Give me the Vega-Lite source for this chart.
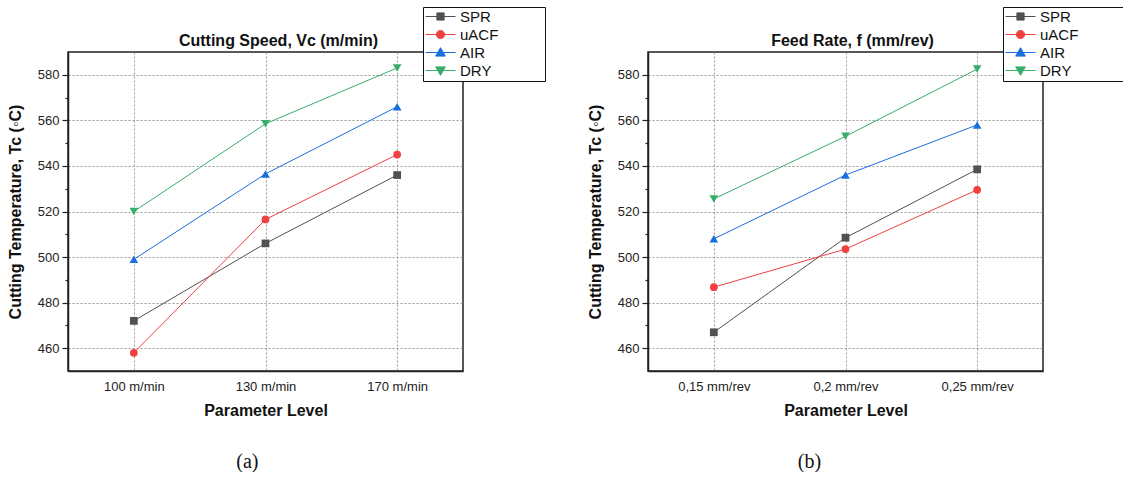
{
  "$schema": "https://vega.github.io/schema/vega-lite/v6.json",
  "background": "white",
  "padding": {"left": 6, "top": 5, "right": 0, "bottom": 0},
  "config": {
    "font": "Liberation Sans",
    "view": {"stroke": "#222222", "strokeWidth": 1.5},
    "axis": {
      "labelFont": "Liberation Sans", "labelFontSize": 13, "labelColor": "#222222",
      "titleFont": "Liberation Sans", "titleFontSize": 16, "titleFontWeight": "bold", "titleColor": "#111111",
      "domainColor": "#222222", "domainWidth": 1.5, "tickColor": "#222222", "tickWidth": 1.2,
      "gridColor": "#9a9a9a", "gridDash": [2, 2], "gridWidth": 1
    },
    "legend": {"labelFont": "Liberation Sans", "title": null, "orient": "none", "legendX": 355, "legendY": -45, "strokeColor": "#111111", "fillColor": "white", "padding": 2, "labelFontSize": 15, "labelColor": "#111111", "rowPadding": 2, "symbolSize": 144, "symbolStrokeWidth": 1, "symbolOffset": 8, "labelOffset": 12, "symbolOpacity": 1, "symbolFillColor": "#515151", "symbolStrokeColor": "#515151"}
  },
  "datasets": {
    "speed": [
      {"level": "100 m/min", "series": "SPR", "temp": 472},
      {"level": "130 m/min", "series": "SPR", "temp": 506},
      {"level": "170 m/min", "series": "SPR", "temp": 536},
      {"level": "100 m/min", "series": "uACF", "temp": 458},
      {"level": "130 m/min", "series": "uACF", "temp": 516.5},
      {"level": "170 m/min", "series": "uACF", "temp": 545},
      {"level": "100 m/min", "series": "AIR", "temp": 499},
      {"level": "130 m/min", "series": "AIR", "temp": 536.5},
      {"level": "170 m/min", "series": "AIR", "temp": 566},
      {"level": "100 m/min", "series": "DRY", "temp": 520},
      {"level": "130 m/min", "series": "DRY", "temp": 558.5},
      {"level": "170 m/min", "series": "DRY", "temp": 583}
    ],
    "feed": [
      {"level": "0,15 mm/rev", "series": "SPR", "temp": 467},
      {"level": "0,2 mm/rev", "series": "SPR", "temp": 508.5},
      {"level": "0,25 mm/rev", "series": "SPR", "temp": 538.5},
      {"level": "0,15 mm/rev", "series": "uACF", "temp": 486.8},
      {"level": "0,2 mm/rev", "series": "uACF", "temp": 503.5},
      {"level": "0,25 mm/rev", "series": "uACF", "temp": 529.5},
      {"level": "0,15 mm/rev", "series": "AIR", "temp": 508},
      {"level": "0,2 mm/rev", "series": "AIR", "temp": 536},
      {"level": "0,25 mm/rev", "series": "AIR", "temp": 558},
      {"level": "0,15 mm/rev", "series": "DRY", "temp": 525.5},
      {"level": "0,2 mm/rev", "series": "DRY", "temp": 553},
      {"level": "0,25 mm/rev", "series": "DRY", "temp": 582.5}
    ]
  },
  "spacing": 39,
  "resolve": {
    "scale": {"color": "independent", "fill": "independent", "stroke": "independent", "shape": "independent"},
    "legend": {"color": "independent", "fill": "independent", "stroke": "independent", "shape": "independent"}
  },
  "hconcat": [
    {
      "title": {"text": "(a)", "orient": "bottom", "anchor": "middle", "font": "Liberation Serif", "fontSize": 20, "fontWeight": "normal", "color": "#111111", "offset": 33, "dx": -29},
      "resolve": {
        "scale": {"color": "independent", "fill": "independent", "stroke": "independent", "shape": "independent"},
        "legend": {"color": "independent", "fill": "independent", "stroke": "independent", "shape": "independent"}
      },
      "vconcat": [
        {
          "width": 395,
          "height": 319,
          "title": {"text": "Cutting Speed, Vc (m/min)", "frame": "group", "anchor": "middle", "font": "Liberation Sans", "fontSize": 16, "fontWeight": "bold", "color": "#111111", "offset": -42, "dx": 13},
          "data": {"name": "speed"},
          "encoding": {
            "x": {"field": "level", "type": "ordinal", "sort": ["100 m/min", "130 m/min", "170 m/min"],
              "scale": {"type": "point", "padding": 0.5},
              "axis": {"title": "Parameter Level", "labelAngle": 0, "labelPadding": 9, "titlePadding": 9, "tickSize": 0, "grid": true}},
            "y": {"field": "temp", "type": "quantitative",
              "scale": {"domain": [450, 590], "nice": false, "zero": false},
              "axis": {"title": "Cutting Temperature, Tc (◦C)",
                "values": [460, 470, 480, 490, 500, 510, 520, 530, 540, 550, 560, 570, 580],
                "labelExpr": "datum.value % 20 === 0 ? datum.label : ''",
                "tickSize": {"condition": {"test": "datum.value % 20 === 0", "value": 6}, "value": 3},
                "gridOpacity": {"condition": {"test": "datum.value % 20 === 0", "value": 1}, "value": 0},
                "labelPadding": 3, "titlePadding": 14}}
          },
          "layer": [
            {
              "mark": {"type": "line", "strokeWidth": 1},
              "encoding": {
                "color": {"field": "series", "type": "nominal",
                  "scale": {"range": ["#1A6FDF", "#37AD6B", "#515151", "#F14040"]},
                  "legend": null}
              }
            },
            {"transform": [{"filter": "datum.series === 'SPR'"}], "mark": {"type": "point", "shape": "square", "filled": true, "opacity": 1, "size": 60}, "encoding": {"color": {"field": "series", "type": "nominal", "legend": null}}},
            {"transform": [{"filter": "datum.series === 'uACF'"}], "mark": {"type": "point", "shape": "circle", "filled": true, "opacity": 1, "size": 60}, "encoding": {"color": {"field": "series", "type": "nominal", "legend": null}}},
            {"transform": [{"filter": "datum.series === 'AIR'"}], "mark": {"type": "point", "shape": "triangle-up", "filled": true, "opacity": 1, "size": 75}, "encoding": {"color": {"field": "series", "type": "nominal", "legend": null}}},
            {"transform": [{"filter": "datum.series === 'DRY'"}], "mark": {"type": "point", "shape": "triangle-down", "filled": true, "opacity": 1, "size": 75}, "encoding": {"color": {"field": "series", "type": "nominal", "legend": null}}},
            {
              "transform": [{"filter": "false"}],
              "mark": {"type": "point", "filled": true, "opacity": 1, "size": 144, "strokeWidth": 1},
              "encoding": {
                "fill": {"field": "series", "type": "nominal",
                  "scale": {"domain": ["SPR", "uACF", "AIR", "DRY"], "range": ["#515151", "#F14040", "#1A6FDF", "#37AD6B"]},
                  "legend": {"labelExpr": "datum.label + '\u2800\u2800\u2800\u2800'"}},
                "stroke": {"field": "series", "type": "nominal",
                  "scale": {"domain": ["SPR", "uACF", "AIR", "DRY"], "range": ["#515151", "#F14040", "#1A6FDF", "#37AD6B"]},
                  "legend": {"labelExpr": "datum.label + '\u2800\u2800\u2800\u2800'"}},
                "shape": {"field": "series", "type": "nominal",
                  "scale": {"domain": ["SPR", "uACF", "AIR", "DRY"], "range": [
                    "M-2.5,0H2.5M-0.6,-0.6H0.6V0.6H-0.6Z",
                    "M-2.5,0H2.5M0.68,0A0.68,0.68,0,1,0,-0.68,0A0.68,0.68,0,1,0,0.68,0Z",
                    "M-2.5,0H2.5M0,-0.8L0.8,0.6H-0.8Z",
                    "M-2.5,0H2.5M0,0.8L0.8,-0.6H-0.8Z"]},
                  "legend": {"labelExpr": "datum.label + '\u2800\u2800\u2800\u2800'"}}
              }
            }
          ]
        }
      ]
    },
    {
      "title": {"text": "(b)", "orient": "bottom", "anchor": "middle", "font": "Liberation Serif", "fontSize": 20, "fontWeight": "normal", "color": "#111111", "offset": 33, "dx": -47},
      "resolve": {
        "scale": {"color": "independent", "fill": "independent", "stroke": "independent", "shape": "independent"},
        "legend": {"color": "independent", "fill": "independent", "stroke": "independent", "shape": "independent"}
      },
      "vconcat": [
        {
          "width": 395,
          "height": 319,
          "title": {"text": "Feed Rate, f (mm/rev)", "frame": "group", "anchor": "middle", "font": "Liberation Sans", "fontSize": 16, "fontWeight": "bold", "color": "#111111", "offset": -42, "dx": 7},
          "data": {"name": "feed"},
          "encoding": {
            "x": {"field": "level", "type": "ordinal", "sort": ["0,15 mm/rev", "0,2 mm/rev", "0,25 mm/rev"],
              "scale": {"type": "point", "padding": 0.5},
              "axis": {"title": "Parameter Level", "labelAngle": 0, "labelPadding": 9, "titlePadding": 9, "tickSize": 0, "grid": true}},
            "y": {"field": "temp", "type": "quantitative",
              "scale": {"domain": [450, 590], "nice": false, "zero": false},
              "axis": {"title": "Cutting Temperature, Tc (◦C)",
                "values": [460, 470, 480, 490, 500, 510, 520, 530, 540, 550, 560, 570, 580],
                "labelExpr": "datum.value % 20 === 0 ? datum.label : ''",
                "tickSize": {"condition": {"test": "datum.value % 20 === 0", "value": 6}, "value": 3},
                "gridOpacity": {"condition": {"test": "datum.value % 20 === 0", "value": 1}, "value": 0},
                "labelPadding": 3, "titlePadding": 14}}
          },
          "layer": [
            {
              "mark": {"type": "line", "strokeWidth": 1},
              "encoding": {
                "color": {"field": "series", "type": "nominal",
                  "scale": {"range": ["#1A6FDF", "#37AD6B", "#515151", "#F14040"]},
                  "legend": null}
              }
            },
            {"transform": [{"filter": "datum.series === 'SPR'"}], "mark": {"type": "point", "shape": "square", "filled": true, "opacity": 1, "size": 60}, "encoding": {"color": {"field": "series", "type": "nominal", "legend": null}}},
            {"transform": [{"filter": "datum.series === 'uACF'"}], "mark": {"type": "point", "shape": "circle", "filled": true, "opacity": 1, "size": 60}, "encoding": {"color": {"field": "series", "type": "nominal", "legend": null}}},
            {"transform": [{"filter": "datum.series === 'AIR'"}], "mark": {"type": "point", "shape": "triangle-up", "filled": true, "opacity": 1, "size": 75}, "encoding": {"color": {"field": "series", "type": "nominal", "legend": null}}},
            {"transform": [{"filter": "datum.series === 'DRY'"}], "mark": {"type": "point", "shape": "triangle-down", "filled": true, "opacity": 1, "size": 75}, "encoding": {"color": {"field": "series", "type": "nominal", "legend": null}}},
            {
              "transform": [{"filter": "false"}],
              "mark": {"type": "point", "filled": true, "opacity": 1, "size": 144, "strokeWidth": 1},
              "encoding": {
                "fill": {"field": "series", "type": "nominal",
                  "scale": {"domain": ["SPR", "uACF", "AIR", "DRY"], "range": ["#515151", "#F14040", "#1A6FDF", "#37AD6B"]},
                  "legend": {"labelExpr": "datum.label + '\u2800\u2800\u2800\u2800'"}},
                "stroke": {"field": "series", "type": "nominal",
                  "scale": {"domain": ["SPR", "uACF", "AIR", "DRY"], "range": ["#515151", "#F14040", "#1A6FDF", "#37AD6B"]},
                  "legend": {"labelExpr": "datum.label + '\u2800\u2800\u2800\u2800'"}},
                "shape": {"field": "series", "type": "nominal",
                  "scale": {"domain": ["SPR", "uACF", "AIR", "DRY"], "range": [
                    "M-2.5,0H2.5M-0.6,-0.6H0.6V0.6H-0.6Z",
                    "M-2.5,0H2.5M0.68,0A0.68,0.68,0,1,0,-0.68,0A0.68,0.68,0,1,0,0.68,0Z",
                    "M-2.5,0H2.5M0,-0.8L0.8,0.6H-0.8Z",
                    "M-2.5,0H2.5M0,0.8L0.8,-0.6H-0.8Z"]},
                  "legend": {"labelExpr": "datum.label + '\u2800\u2800\u2800\u2800'"}}
              }
            }
          ]
        }
      ]
    }
  ]
}
